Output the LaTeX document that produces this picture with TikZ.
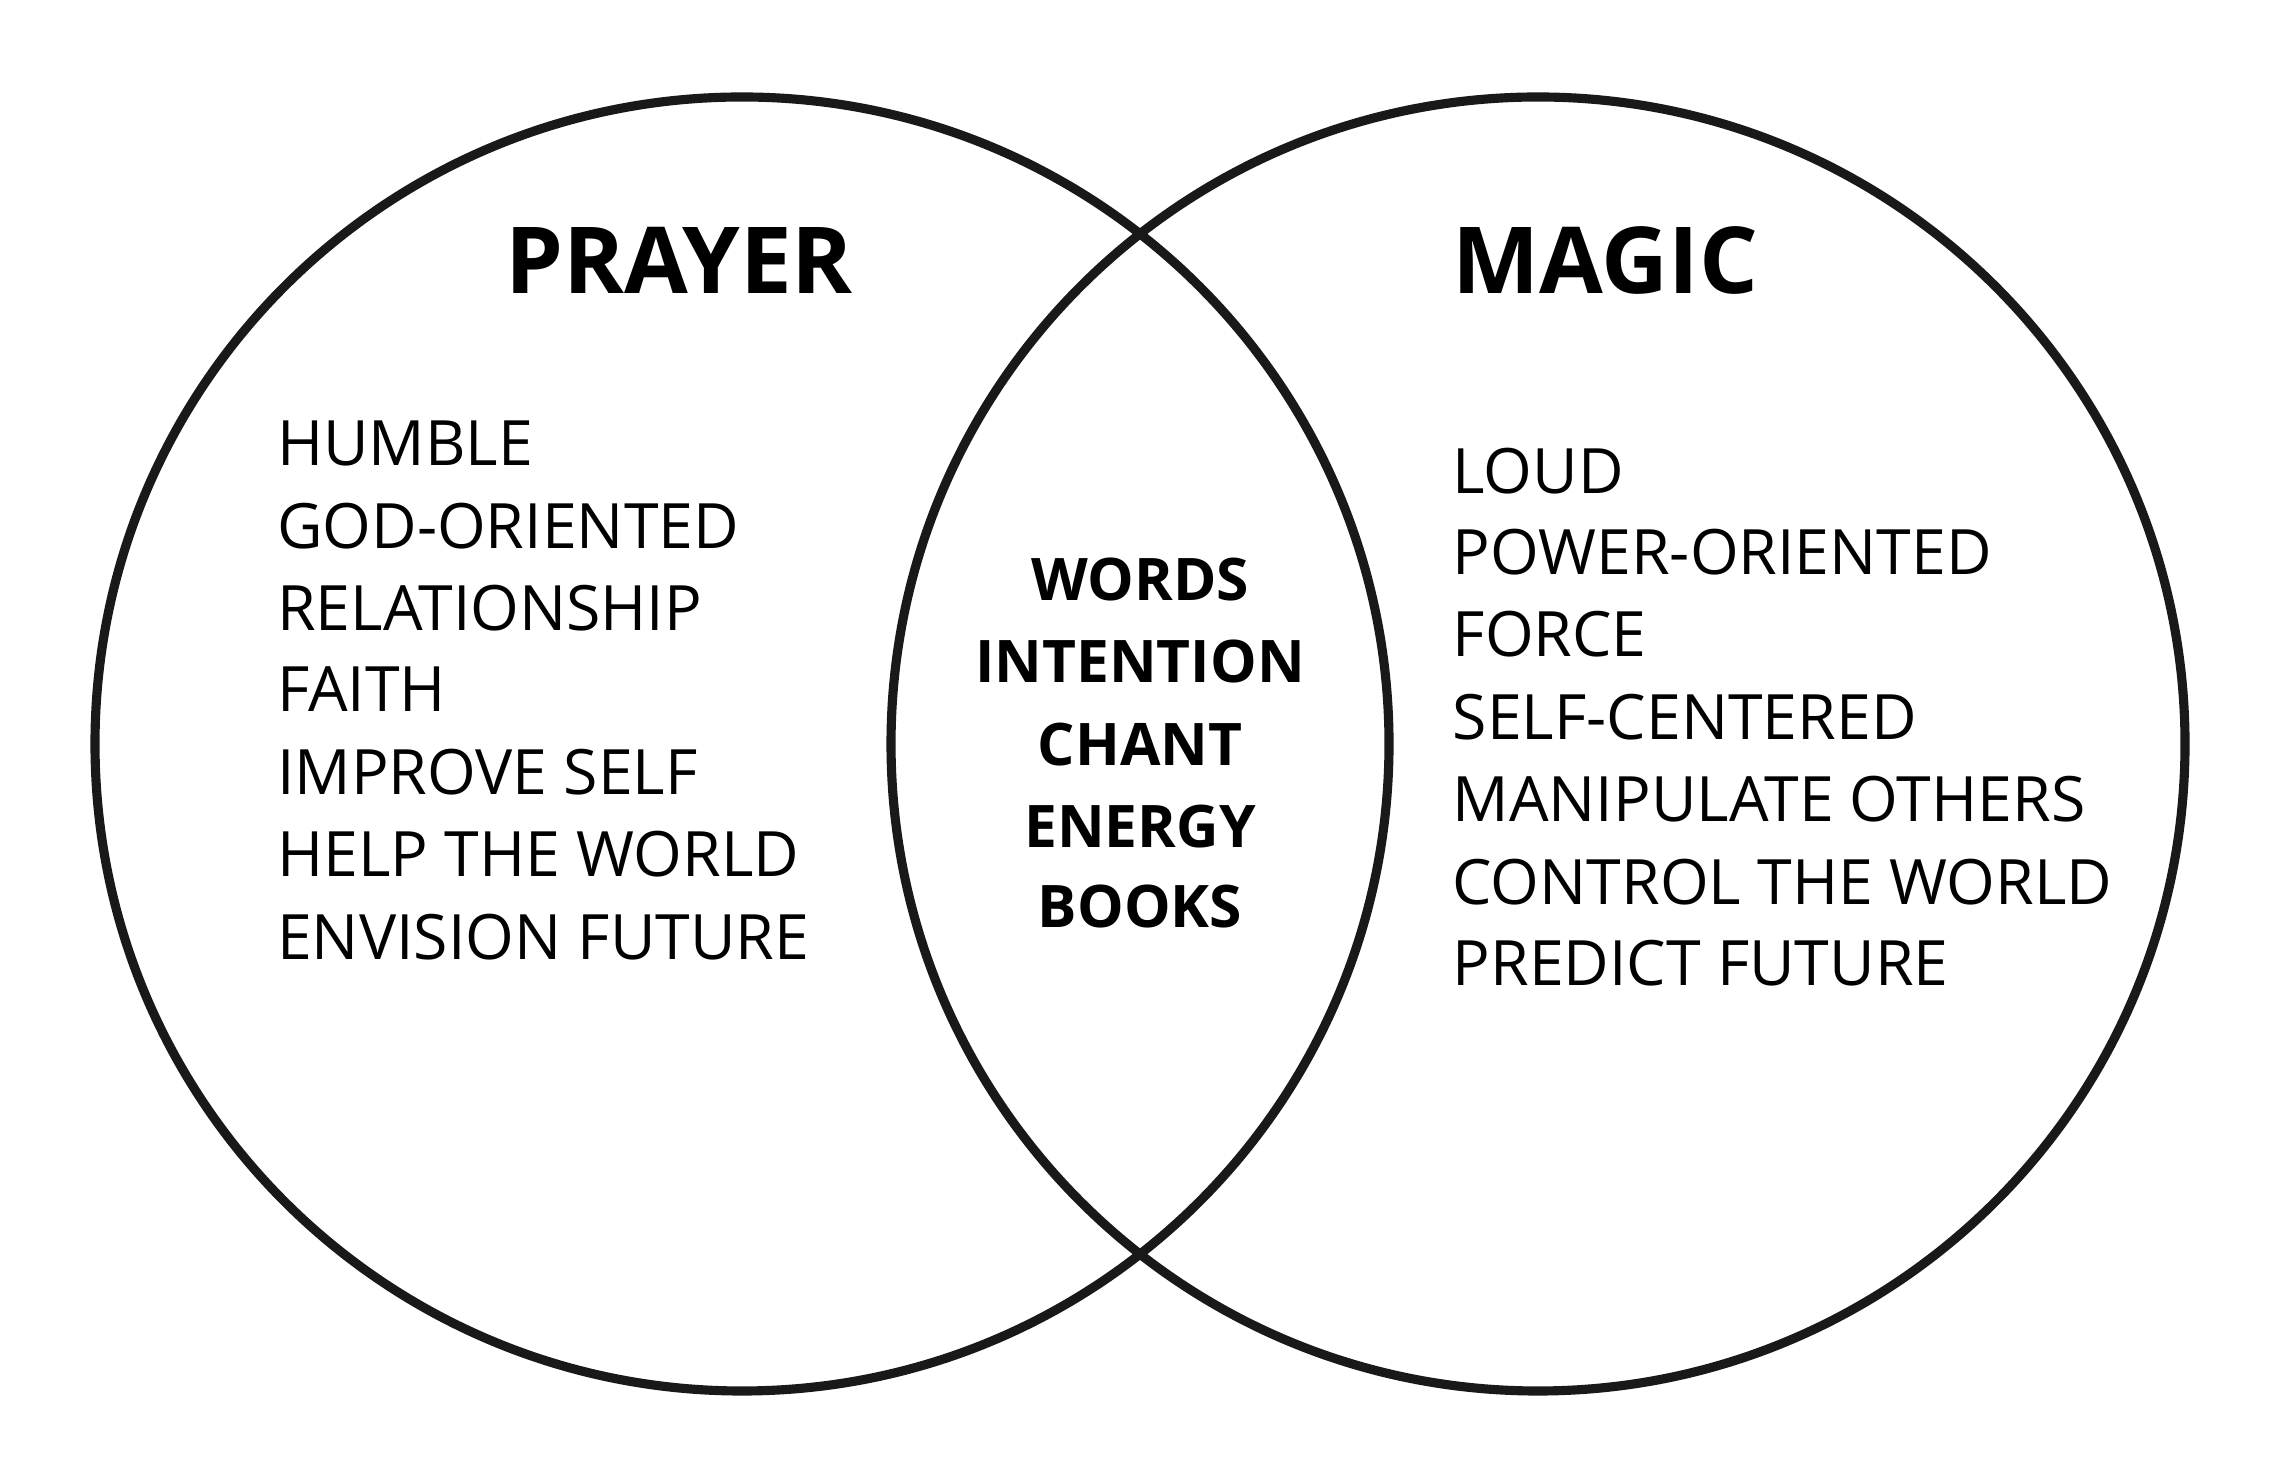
\documentclass[tikz,border=0pt]{standalone}
\usepackage{fontspec}
\setmainfont{Open Sans}
\tikzset{
  ring/.style={line width=2.6pt, draw=black!90},
  title/.style={font={\fontsize{26.3}{30}\selectfont\bfseries}, inner sep=0pt},
  item/.style={font={\fontsize{17.8}{22}\selectfont}, inner sep=0pt, anchor=base west},
  shared/.style={font={\fontsize{16.7}{20}\selectfont\bfseries}, inner sep=0pt, anchor=base}
}

\begin{document}
\begin{tikzpicture}
        \useasboundingbox[fill=white] (0,0) rectangle (22.70,14.64);
        % Circles
        \draw[ring] (7.42,7.20) circle (6.47);
        \draw[ring] (15.38,7.20) circle (6.47);
        % Titles
        \node[title, anchor=base] (prayer) at (6.79,11.70) {PRAYER};
        \node[title, anchor=base west] (magic) at (14.52,11.70) {MAGIC};
        % Prayer side
        \node[item] (p1) at (2.765,9.98) {HUMBLE};
        \node[item] (p2) at (2.765,9.15) {GOD-ORIENTED};
        \node[item] (p3) at (2.765,8.33) {RELATIONSHIP};
        \node[item] (p4) at (2.765,7.52) {FAITH};
        \node[item] (p5) at (2.765,6.69) {IMPROVE SELF};
        \node[item] (p6) at (2.765,5.87) {HELP THE WORLD};
        \node[item] (p7) at (2.765,5.04) {ENVISION FUTURE};
        % Magic side
        \node[item] (m1) at (14.52,9.70) {LOUD};
        \node[item] (m2) at (14.52,8.89) {POWER-ORIENTED};
        \node[item] (m3) at (14.52,8.07) {FORCE};
        \node[item] (m4) at (14.52,7.24) {SELF-CENTERED};
        \node[item] (m5) at (14.52,6.42) {MANIPULATE OTHERS};
        \node[item] (m6) at (14.52,5.59) {CONTROL THE WORLD};
        \node[item] (m7) at (14.52,4.78) {PREDICT FUTURE};
        % Overlap
        \node[shared] (c1) at (11.40,8.63) {WORDS};
        \node[shared] (c2) at (11.40,7.81) {INTENTION};
        \node[shared] (c3) at (11.40,6.98) {CHANT};
        \node[shared] (c4) at (11.40,6.16) {ENERGY};
        \node[shared] (c5) at (11.40,5.36) {BOOKS};
\end{tikzpicture}
\end{document}
